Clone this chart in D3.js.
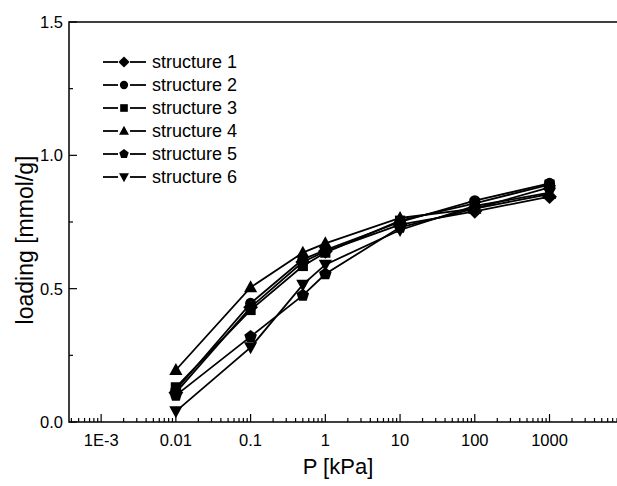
<!DOCTYPE html>
<html>
<head>
<meta charset="utf-8">
<script src="https://cdn.jsdelivr.net/npm/d3@7"></script>
<style>
  body { margin: 0; background: #fff; }
  text { font-family: "Liberation Sans", Arial, sans-serif; fill: #000; }
</style>
</head>
<body>
<svg></svg>
<script>
// pressures (kPa) and loadings (mmol/g)
const pressures = [0.01, 0.1, 0.5, 1, 10, 100, 1000];
const seriesNames = ['structure 1', 'structure 2', 'structure 3', 'structure 4', 'structure 5', 'structure 6'];
const s1 = [0.11, 0.43, 0.60, 0.64, 0.74, 0.79, 0.845];
const s2 = [0.12, 0.445, 0.61, 0.645, 0.75, 0.83, 0.895];
const s3 = [0.13, 0.42, 0.585, 0.635, 0.755, 0.82, 0.89];
const s4 = [0.195, 0.505, 0.635, 0.67, 0.765, 0.80, 0.855];
const s5 = [0.10, 0.32, 0.475, 0.555, 0.73, 0.80, 0.88];
const s6 = [0.04, 0.28, 0.515, 0.59, 0.72, 0.81, 0.86];
const xTickLabels = ['1E-3', '0.01', '0.1', '1', '10', '100', '1000'];
const yTickLabels = ['0.0', '0.5', '1.0', '1.5'];

const allSeries = [s1, s2, s3, s4, s5, s6];

const svgWidth = 617;
const svgHeight = 486;
const plotLeft = 69, plotTop = 22, plotRight = 622, plotBottom = 422;

const svg = d3.select('svg')
    .attr('width', svgWidth)
    .attr('height', svgHeight);

const xScale = d3.scaleLog()
    .domain([Math.pow(10, -3.43), Math.pow(10, 3.97)])
    .range([plotLeft, plotRight]);

const yScale = d3.scaleLinear()
    .domain([0, 1.5])
    .range([plotBottom, plotTop]);

// frame
svg.append('rect')
    .attr('x', plotLeft).attr('y', plotTop)
    .attr('width', plotRight - plotLeft).attr('height', plotBottom - plotTop)
    .attr('fill', 'none').attr('stroke', '#000').attr('stroke-width', 1.5);

// x ticks (inward)
const majorX = [1e-3, 1e-2, 1e-1, 1, 10, 100, 1000];
const minorX = [];
for (let e = -4; e <= 3; e++) {
  for (let m = 2; m <= 9; m++) {
    const v = m * Math.pow(10, e);
    if (v > xScale.domain()[0] && v < xScale.domain()[1]) minorX.push(v);
  }
}
const xAxis = svg.append('g');
xAxis.selectAll('.minor').data(minorX).enter().append('line')
    .attr('x1', d => xScale(d)).attr('x2', d => xScale(d))
    .attr('y1', plotBottom).attr('y2', plotBottom - 4)
    .attr('stroke', '#000').attr('stroke-width', 1.2);
xAxis.selectAll('.major').data(majorX).enter().append('line')
    .attr('x1', d => xScale(d)).attr('x2', d => xScale(d))
    .attr('y1', plotBottom).attr('y2', plotBottom - 8)
    .attr('stroke', '#000').attr('stroke-width', 1.2);
xAxis.selectAll('text').data(majorX).enter().append('text')
    .attr('x', d => xScale(d))
    .attr('y', plotBottom + 24)
    .attr('text-anchor', 'middle')
    .attr('font-size', 16.5)
    .text((d, i) => xTickLabels[i]);

// y ticks (inward)
const majorY = [0, 0.5, 1.0, 1.5];
const minorY = [0.25, 0.75, 1.25];
const yAxis = svg.append('g');
yAxis.selectAll('.minor').data(minorY).enter().append('line')
    .attr('x1', plotLeft).attr('x2', plotLeft + 4)
    .attr('y1', d => yScale(d)).attr('y2', d => yScale(d))
    .attr('stroke', '#000').attr('stroke-width', 1.2);
yAxis.selectAll('.major').data(majorY).enter().append('line')
    .attr('x1', plotLeft).attr('x2', plotLeft + 8)
    .attr('y1', d => yScale(d)).attr('y2', d => yScale(d))
    .attr('stroke', '#000').attr('stroke-width', 1.2);
yAxis.selectAll('text').data(majorY).enter().append('text')
    .attr('x', plotLeft - 6)
    .attr('y', d => yScale(d) + 6)
    .attr('text-anchor', 'end')
    .attr('font-size', 16.5)
    .text((d, i) => yTickLabels[i]);

// marker shapes
function poly(n, r, rot) {
  const pts = d3.range(n).map(i => {
    const a = rot + i * 2 * Math.PI / n;
    return [r * Math.sin(a), -r * Math.cos(a)];
  });
  return 'M' + pts.map(p => p[0].toFixed(2) + ',' + p[1].toFixed(2)).join('L') + 'Z';
}
const markerPaths = [
  s => poly(4, s * 0.62, 0),                 // diamond
  s => d3.symbol(d3.symbolCircle, Math.PI * Math.pow(s * 0.46, 2))(),
  s => poly(4, s * 0.6, Math.PI / 4),        // square
  s => 'M0,' + (-s * 0.58) + 'L' + (s * 0.55) + ',' + (s * 0.42) + 'L' + (-s * 0.55) + ',' + (s * 0.42) + 'Z',
  s => poly(5, s * 0.55, 0),                 // pentagon
  s => 'M0,' + (s * 0.58) + 'L' + (s * 0.55) + ',' + (-s * 0.42) + 'L' + (-s * 0.55) + ',' + (-s * 0.42) + 'Z'
];

const line = d3.line()
    .x((d, i) => xScale(pressures[i]))
    .y(d => yScale(d));

const plot = svg.append('g');
allSeries.forEach((vals, k) => {
  plot.append('path')
      .attr('d', line(vals))
      .attr('fill', 'none')
      .attr('stroke', '#000')
      .attr('stroke-width', 1.8);
});
allSeries.forEach((vals, k) => {
  plot.selectAll(null).data(vals).enter().append('path')
      .attr('d', markerPaths[k](12))
      .attr('transform', (d, i) => 'translate(' + xScale(pressures[i]) + ',' + yScale(d) + ')')
      .attr('fill', '#000');
});

// legend
const legend = svg.append('g');
seriesNames.forEach((name, k) => {
  const y = 62 + k * 23;
  legend.append('line')
      .attr('x1', 103).attr('x2', 118)
      .attr('y1', y).attr('y2', y)
      .attr('stroke', '#000').attr('stroke-width', 1.8);
  legend.append('line')
      .attr('x1', 130).attr('x2', 146)
      .attr('y1', y).attr('y2', y)
      .attr('stroke', '#000').attr('stroke-width', 1.8);
  legend.append('path')
      .attr('d', markerPaths[k](9))
      .attr('transform', 'translate(124,' + y + ')')
      .attr('fill', '#000');
  legend.append('text')
      .attr('x', 152)
      .attr('y', y + 6)
      .attr('font-size', 18)
      .text(name);
});

// axis titles
svg.append('text')
    .attr('x', 338)
    .attr('y', 474)
    .attr('text-anchor', 'middle')
    .attr('font-size', 22)
    .text('P [kPa]');

svg.append('text')
    .attr('transform', 'translate(33,240) rotate(-90)')
    .attr('text-anchor', 'middle')
    .attr('font-size', 23)
    .text('loading [mmol/g]');
</script>
</body>
</html>
